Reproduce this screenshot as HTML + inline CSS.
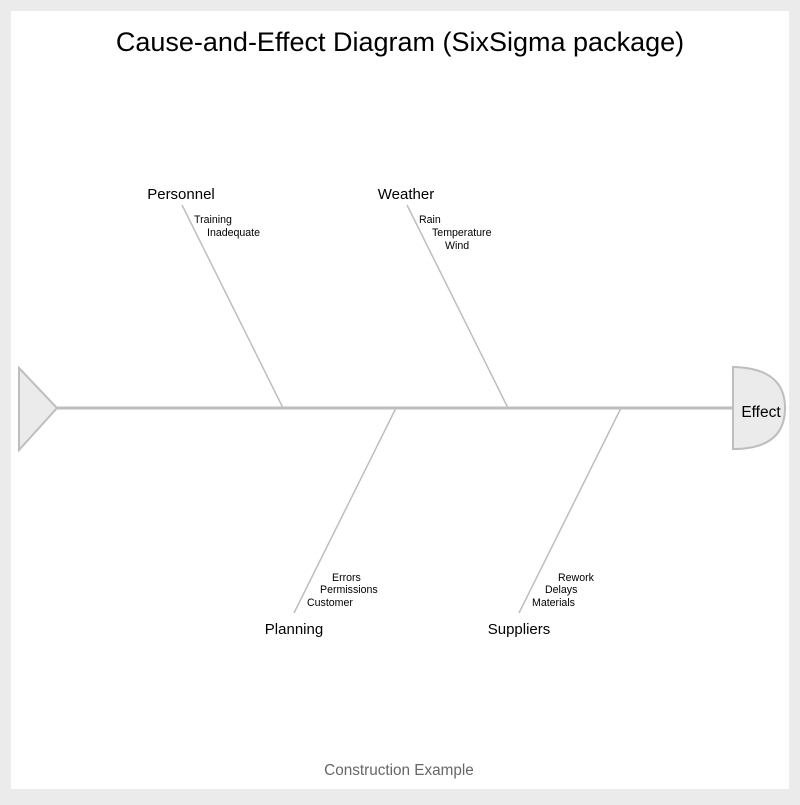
<!DOCTYPE html>
<html><head><style>html,body{margin:0;padding:0;background:#ebebeb}</style></head>
<body>
<svg width="800" height="800" xmlns="http://www.w3.org/2000/svg" font-family="Liberation Sans, Arial, sans-serif">
<rect x="0" y="0" width="800" height="800" fill="#ebebeb"/>
<rect x="11" y="11" width="778" height="778" fill="#fff"/>
<text x="400" y="51" font-size="27" text-anchor="middle" fill="#000">Cause-and-Effect Diagram (SixSigma package)</text>
<line x1="57" y1="408" x2="733" y2="408" stroke="#bebebe" stroke-width="3"/>
<polygon points="19,368 57,408 19,450" fill="#ebebeb" stroke="#bebebe" stroke-width="2"/>
<path d="M733,367 Q785,368 785,408 Q785,449 733,449 Z" fill="#ebebeb" stroke="#bebebe" stroke-width="2"/>
<text x="761" y="417" font-size="15.5" text-anchor="middle">Effect</text>
<g stroke="#bebebe" stroke-width="1.5">
<line x1="182" y1="205" x2="283" y2="408"/>
<line x1="407" y1="205" x2="508" y2="408"/>
<line x1="396" y1="408" x2="294" y2="613"/>
<line x1="621" y1="408" x2="519" y2="613"/>
</g>
<g font-size="15" text-anchor="middle">
<text x="181" y="199">Personnel</text>
<text x="406" y="199">Weather</text>
<text x="294" y="634">Planning</text>
<text x="519" y="634">Suppliers</text>
</g>
<g font-size="10.6">
<text x="194" y="223">Training</text>
<text x="207" y="236">Inadequate</text>
<text x="419" y="223">Rain</text>
<text x="432" y="236">Temperature</text>
<text x="445" y="249">Wind</text>
<text x="332" y="581">Errors</text>
<text x="320" y="593">Permissions</text>
<text x="307" y="606">Customer</text>
<text x="558" y="581">Rework</text>
<text x="545" y="593">Delays</text>
<text x="532" y="606">Materials</text>
</g>
<text x="399" y="775" font-size="15.3" text-anchor="middle" fill="#666">Construction Example</text>
</svg>
</body></html>
